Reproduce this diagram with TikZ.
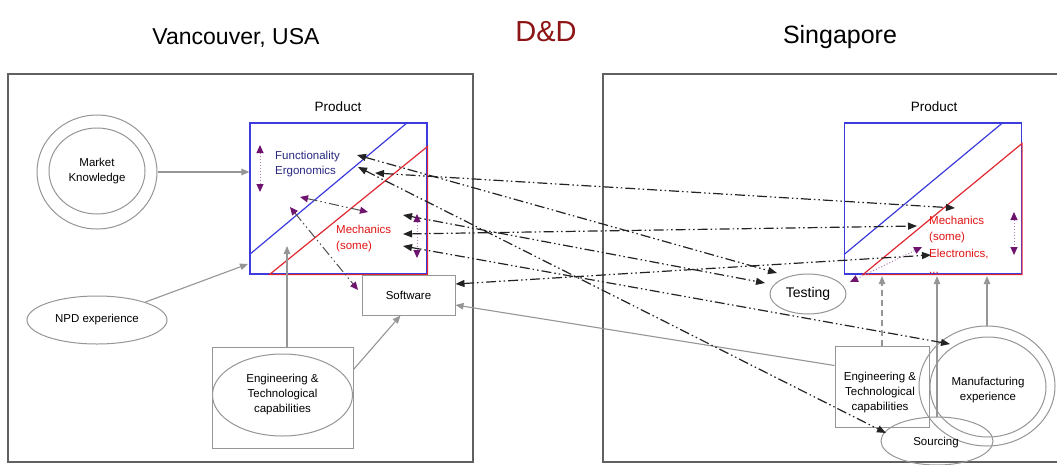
\documentclass[tikz,border=0pt]{standalone}
\usepackage{fontspec}
\setmainfont{Liberation Sans}
\usetikzlibrary{arrows.meta,calc,shapes.geometric}

\definecolor{frame}{RGB}{96,96,96}
\definecolor{conn}{RGB}{150,150,150}
\definecolor{prodblue}{RGB}{60,60,220}
\definecolor{prodred}{RGB}{225,40,50}
\definecolor{navytext}{RGB}{40,40,130}
\definecolor{redtext}{RGB}{225,20,20}
\definecolor{purp}{RGB}{110,20,110}
\definecolor{linkdark}{RGB}{35,35,35}
\definecolor{ddred}{RGB}{140,20,20}

\tikzset{
  region/.style={draw=frame, line width=1.8pt},
  title/.style={font=\fontsize{23}{26}\selectfont},
  lbl/.style={font=\fontsize{11.5}{15}\selectfont, align=center, inner sep=0pt},
  bubble/.style={ellipse, draw=conn, line width=1pt, inner sep=0pt, lbl},
  panel/.style={rectangle, draw=conn, line width=1pt, inner sep=0pt, lbl},
  prodbox/.style={rectangle, draw=prodblue, line width=1.2pt,
    minimum width=177pt, minimum height=151pt, inner sep=0pt},
  feed/.style={draw=conn, line width=1.1pt, -{Triangle[length=8pt,width=6.5pt]}},
  ddot/.style={dash pattern=on 10pt off 3pt on 1.5pt off 3pt on 1.5pt off 3pt},
  link/.style={draw=linkdark, line width=1.2pt, ddot,
    {Triangle[length=9pt,width=7pt]}-{Triangle[length=9pt,width=7pt]}},
  plink/.style={draw=linkdark!80, line width=1pt, ddot,
    {Triangle[length=8pt,width=7pt,color=purp]}-{Triangle[length=8pt,width=7pt,color=purp]}},
  pdot/.style={draw=purp!55, line width=1pt, dotted,
    {Triangle[length=8pt,width=7pt,color=purp]}-{Triangle[length=8pt,width=7pt,color=purp]}},
}

\begin{document}
\begin{tikzpicture}[x=1pt,y=-1pt]
\useasboundingbox (0,0) rectangle (1057,464);
\clip (0,0) rectangle (1057,464);
\fill[white] (0,0) rectangle (1057,464);

% titles
\node[title] (vtitle) at (236,38) {Vancouver, USA};
\node[font=\fontsize{29}{32}\selectfont, text=ddred] (dd) at (546,32) {D\&D};
\node[title, font=\fontsize{25}{28}\selectfont] (stitle) at (840,37) {Singapore};

% the two sites
\draw[region] (8,74) rectangle (473,462);
\draw[region] (603,74) rectangle (1075,462);

% ---------------- Vancouver ----------------
\node[prodbox] (lprod) at (338.5,198.5) {};
\draw[prodblue, line width=1.2pt] ($(lprod.south west)+(0,-20)$) -- ($(lprod.north east)+(-20,0)$);
\draw[prodred, line width=1.2pt] ($(lprod.south west)+(20,0)$) -- ($(lprod.north east)+(0,24)$)
  -- (lprod.south east) -- cycle;
\node[font=\fontsize{13.5}{16}\selectfont] (lptitle) at (338,107) {Product};
\node[lbl, align=left, anchor=west, text=navytext] (lfunc) at (275,164.5) {Functionality\\Ergonomics};
\node[lbl, align=left, anchor=west, text=redtext, font=\fontsize{11.5}{16}\selectfont] (lmech) at (336,239) {Mechanics\\(some)};

\node[bubble, minimum width=120pt, minimum height=114pt] (mko) at (97,172) {};
\node[bubble, minimum width=96pt, minimum height=86pt] (mki) at (97,171) {Market\\Knowledge};
\node[bubble, minimum width=140pt, minimum height=48pt] (npd) at (97,320) {NPD experience};
\node[panel, minimum width=141pt, minimum height=101pt] (englbox) at (282.5,397.5) {};
\node[bubble, minimum width=140pt, minimum height=82pt] (engl) at (282.5,395) {Engineering \&\\Technological\\capabilities};
\node[panel, minimum width=93pt, minimum height=40pt] (soft) at (408.5,295) {Software};

% ---------------- Singapore ----------------
\node[prodbox] (rprod) at (933,198.5) {};
\draw[prodblue, line width=1.2pt] ($(rprod.south west)+(0,-20)$) -- ($(rprod.north east)+(-19,0)$);
\draw[prodred, line width=1.2pt] ($(rprod.south west)+(19,0)$) -- ($(rprod.north east)+(0,21)$)
  -- (rprod.south east) -- cycle;
\node[font=\fontsize{13.5}{16}\selectfont] (rptitle) at (934,107) {Product};
\node[lbl, align=left, anchor=west, text=redtext, font=\fontsize{11.5}{16.5}\selectfont] (rmech) at (929,245) {Mechanics\\(some)\\Electronics,\\...};

\node[bubble, minimum width=76pt, minimum height=40pt, font=\fontsize{14}{16}\selectfont] (test) at (808,294) {Testing};
\node[panel, minimum width=94pt, minimum height=81pt] (engrbox) at (882,386.5) {};
\node[lbl] (engrtxt) at (880,393) {Engineering \&\\Technological\\capabilities};
\node[bubble, minimum width=136pt, minimum height=120pt] (mfo) at (987,386) {};
\node[bubble, minimum width=116pt, minimum height=100pt] (mfi) at (988,387) {};
\node[lbl] (mftxt) at (988,390) {Manufacturing\\experience};
\node[bubble, minimum width=112pt, minimum height=48pt] (src) at (937,441) {};
\node[lbl] (srctxt) at (936,443) {Sourcing};

% ---------------- grey feeds ----------------
\coordinate (npdtip) at (248,264);
\coordinate (lengtip) at (287,246);
\draw[feed] (mko.east) -- (mko.east -| lprod.west);
\draw[feed] (npd) -- (npdtip);
\draw[feed] (lengtip |- englbox.north) -- (lengtip);
\draw[feed] ($(englbox.east)+(0,-28)$) -- ($(soft.south)+(-8,0)$);
\draw[feed] ($(engrbox.west)+(0,-21)$) -- ($(soft.east)+(0,10)$);
\draw[feed, dash pattern=on 6pt off 4pt] (engrbox.north) -- ($(engrbox.north |- rprod.south)+(0,1.5)$);
\draw[feed] (src.north) -- ($(src.north |- rprod.south)+(0,1.5)$);
\draw[feed] (mfo.north) -- ($(mfo.north |- rprod.south)+(0,1.5)$);

% ---------------- cross-site links ----------------
\coordinate (fa) at (357,155);
\coordinate (fb) at (358,167);
\coordinate (fc) at (375,173);
\coordinate (ma) at (403,215);
\coordinate (mb) at (403,234);
\coordinate (mc) at (403,246);
\coordinate (sw) at ($(soft.east)+(0,-11)$);
\coordinate (ra) at (955,208);
\coordinate (rb) at (917,226);
\coordinate (rc) at (931,255);
\coordinate (ta) at (777,273);
\coordinate (tb) at (765,283);
\coordinate (mf) at (950,344);
\coordinate (so) at (886,433);

\draw[link] (fc) -- (ra);
\draw[link] (fa) -- (ta);
\draw[link] (mb) -- (rb);
\draw[link] (ma) -- (tb);
\draw[link] (fb) -- (so);
\draw[link] (mc) -- (mf);
\draw[link] (sw) -- (rc);

% ---------------- links inside the product ----------------
\coordinate (pa1) at (260,145); \coordinate (pa2) at (260,192);
\coordinate (pb1) at (300,197); \coordinate (pb2) at (368,212);
\coordinate (pc1) at (290,207); \coordinate (pc2) at (358,290);
\coordinate (pd1) at (417,214); \coordinate (pd2) at (417,258);
\coordinate (pe1) at (1014,212); \coordinate (pe2) at (1014,255);
\coordinate (pf1) at (850,282); \coordinate (pf2) at (922,247);

\draw[pdot] (pa1) -- (pa2);
\draw[plink] (pb1) -- (pb2);
\draw[plink] (pc1) -- (pc2);
\draw[pdot] (pd1) -- (pd2);
\draw[pdot] (pe1) -- (pe2);
\draw[pdot] (pf1) -- (pf2);
\end{tikzpicture}
\end{document}
